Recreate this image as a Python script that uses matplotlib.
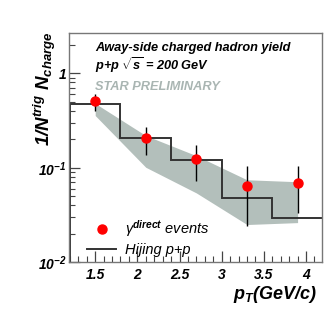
import matplotlib
matplotlib.use("Agg")
import matplotlib.pyplot as plt
from matplotlib.ticker import MultipleLocator, LogLocator, NullFormatter

plt.rcParams["font.family"] = ["Liberation Sans", "DejaVu Sans"]
plt.rcParams["font.weight"] = "bold"
plt.rcParams["font.style"] = "italic"
plt.rcParams["mathtext.fontset"] = "custom"
plt.rcParams["mathtext.rm"] = "Liberation Sans:bold:italic"
plt.rcParams["mathtext.it"] = "Liberation Sans:bold:italic"
plt.rcParams["mathtext.bf"] = "Liberation Sans:bold:italic"
plt.rcParams["mathtext.sf"] = "Liberation Sans:bold:italic"
plt.rcParams["mathtext.default"] = "rm"

# 데이터
pt = [1.5, 2.1, 2.7, 3.3, 3.9]
yield_direct = [0.507, 0.205, 0.124, 0.064, 0.069]
err_hi = [0.61, 0.273, 0.176, 0.105, 0.105]
err_lo = [0.40, 0.136, 0.0715, 0.024, 0.0335]

band_x = [1.5, 2.1, 2.7, 3.3, 3.9]
band_hi = [0.48, 0.219, 0.134, 0.0745, 0.071]
band_lo = [0.357, 0.101, 0.054, 0.025, 0.0262]

hijing_edges = [1.2, 1.8, 2.4, 3.0, 3.6, 4.2]
hijing_vals = [0.468, 0.204, 0.122, 0.048, 0.029]

fig = plt.figure(figsize=(3.32, 3.15), dpi=100)
ax = fig.add_axes([0.208, 0.168, 0.762, 0.727])

ax.fill_between(band_x, band_lo, band_hi, color="#b3bfbb", linewidth=0, zorder=1)
h_line = ax.stairs(hijing_vals, hijing_edges, color="#333333", linewidth=1.4, zorder=2)
ax.vlines(pt, err_lo, err_hi, color="black", linewidth=1.0, zorder=3)
h_pts, = ax.plot(pt, yield_direct, "o", color="#ff0000", markersize=6.5, zorder=4)

ax.set_yscale("log")
ax.set_xlim(1.19, 4.19)
ax.set_ylim(0.0101, 2.67)

ax.set_xticks([1.5, 2, 2.5, 3, 3.5, 4])
ax.set_xticklabels(["1.5", "2", "2.5", "3", "3.5", "4"])
ax.xaxis.set_minor_locator(MultipleLocator(0.1))
ax.set_yticks([0.01, 0.1, 1])
ax.set_yticklabels([r"$10^{-2}$", r"$10^{-1}$", "1"])
ax.yaxis.set_minor_locator(LogLocator(base=10, subs=range(2, 10)))
ax.yaxis.set_minor_formatter(NullFormatter())

ax.tick_params(which="both", direction="in", labelsize=10, color="#444444")
ax.tick_params(which="major", length=8, width=0.9)
ax.tick_params(which="minor", length=4, width=0.8)
ax.tick_params(axis="x", pad=4)
ax.tick_params(axis="y", pad=2)
for s in ax.spines.values():
    s.set_color("#777777")
    s.set_linewidth(1.0)

ax.text(0.102, 0.935, "Away-side charged hadron yield", transform=ax.transAxes,
        fontsize=9.2, va="center", ha="left")
ax.text(0.102, 0.86, r"p+p $\sqrt{s}$ = 200 GeV", transform=ax.transAxes,
        fontsize=9.2, va="center", ha="left")
ax.text(0.102, 0.765, "STAR PRELIMINARY", transform=ax.transAxes,
        fontsize=9.2, va="center", ha="left", color="#a9b5b2")

ax.legend([h_pts, h_line], [r"γ$^{direct}$ events", "Hijing p+p"],
          loc="lower left", bbox_to_anchor=(0.02, -0.035), frameon=False,
          handlelength=2.0, handletextpad=0.6, labelspacing=0.25,
          prop={"style": "italic", "weight": "normal", "size": 10.5})

fig.text(0.135, 0.9, r"1/N$^{trig}$ N$_{charge}$", rotation=90, fontsize=13.5,
         ha="center", va="top")
fig.text(0.955, 0.065, r"p$_{T}$(GeV/c)", fontsize=13, ha="right", va="center")

fig.savefig("out.png", dpi=100)
